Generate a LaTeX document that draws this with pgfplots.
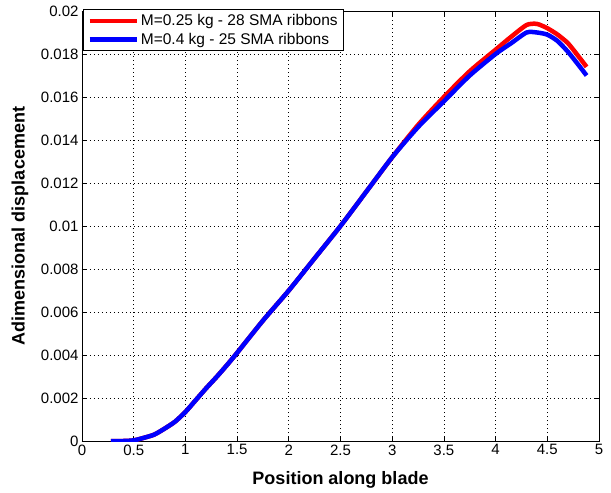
\documentclass[border=0pt]{standalone}
\usepackage{pgfplots}
\pgfplotsset{compat=1.18}
\usepackage{fontspec}
\setmainfont{Liberation Sans}
\usetikzlibrary{calc}

\begin{document}
\begin{tikzpicture}
\begin{axis}[
  scale only axis,
  width=517pt, height=430pt,
  xmin=0, xmax=5, ymin=0, ymax=0.02,
  xtick={0,0.5,1,1.5,2,2.5,3,3.5,4,4.5,5},
  xticklabels={0,0.5,1,1.5,2,2.5,3,3.5,4,4.5,5},
  ytick={0,0.002,0.004,0.006,0.008,0.01,0.012,0.014,0.016,0.018,0.02},
  yticklabels={0,0.002,0.004,0.006,0.008,0.01,0.012,0.014,0.016,0.018,0.02},
  scaled y ticks=false,
  tick align=inside,
  major tick length=5pt,
  tick style={black, line width=0.6pt},
  axis line style={black, line width=0.8pt},
  grid=major,
  major grid style={black, line width=0.6pt, dash pattern=on 0.8pt off 3.2pt},
  tick label style={font=\fontsize{15}{17}\selectfont},
  xlabel={Position along blade},
  ylabel={Adimensional displacement},
  label style={font=\fontsize{18}{20}\selectfont\bfseries},
  xlabel style={at={(axis description cs:0.5,-0.0907)}, anchor=center},
  ylabel style={at={(axis description cs:-0.12,0.5)}, anchor=center},
  legend style={
    at={(axis description cs:0,1)}, anchor=north west,
    xshift=1pt, yshift=2pt,
    draw=black, line width=0.8pt,
    font=\fontsize{15.5}{17}\selectfont,
    row sep=2pt, inner xsep=4pt, inner ysep=3pt,
    nodes={inner sep=2pt},
  },
  legend cell align=left,
  legend image code/.code={\draw[#1] (0pt,0pt) -- (47pt,0pt);},
]
% mass 0.25 kg, 28 ribbons
\addplot[red, line width=4.5pt, smooth, tension=0.4] coordinates {
  (0.28,0) (0.4,0) (0.5,0.00003) (0.6,0.00015) (0.7,0.0003) (0.8,0.00058)
  (0.9,0.0009) (1.0,0.00135) (1.1,0.0019) (1.2,0.00245) (1.3,0.00297)
  (1.4,0.00352) (1.5,0.0041) (1.75,0.0056) (2.0,0.0070) (2.25,0.0085)
  (2.5,0.0100) (2.75,0.0116) (3.0,0.0132) (3.25,0.0147) (3.5,0.0160)
  (3.75,0.0172) (4.0,0.0182) (4.15,0.0188) (4.3,0.01935) (4.4,0.0194)
  (4.5,0.0192) (4.6,0.0189) (4.7,0.0185) (4.8,0.0179) (4.88,0.0174)
};
\addlegendentry{M=0.25 kg - 28 SMA ribbons}
% mass 0.4 kg, 25 ribbons
\addplot[blue, line width=4.5pt, smooth, tension=0.4] coordinates {
  (0.28,0) (0.4,0) (0.5,0.00003) (0.6,0.00015) (0.7,0.0003) (0.8,0.00058)
  (0.9,0.0009) (1.0,0.00135) (1.1,0.0019) (1.2,0.00245) (1.3,0.00297)
  (1.4,0.00352) (1.5,0.0041) (1.75,0.0056) (2.0,0.0070) (2.25,0.0085)
  (2.5,0.0100) (2.75,0.0116) (3.0,0.0132) (3.25,0.0146) (3.5,0.0158)
  (3.75,0.0170) (4.0,0.0180) (4.15,0.0185) (4.3,0.0190) (4.4,0.0190)
  (4.5,0.0189) (4.6,0.0186) (4.7,0.0181) (4.8,0.0175) (4.88,0.0170)
};
\addlegendentry{M=0.4 kg - 25 SMA ribbons}
\coordinate (bl) at (rel axis cs:0,0);
\coordinate (tr) at (rel axis cs:1,1);
\end{axis}
\pgfresetboundingbox
\path[use as bounding box] ($(bl)+(-82pt,-52pt)$) rectangle ($(tr)+(12pt,11pt)$);
\end{tikzpicture}
\end{document}
